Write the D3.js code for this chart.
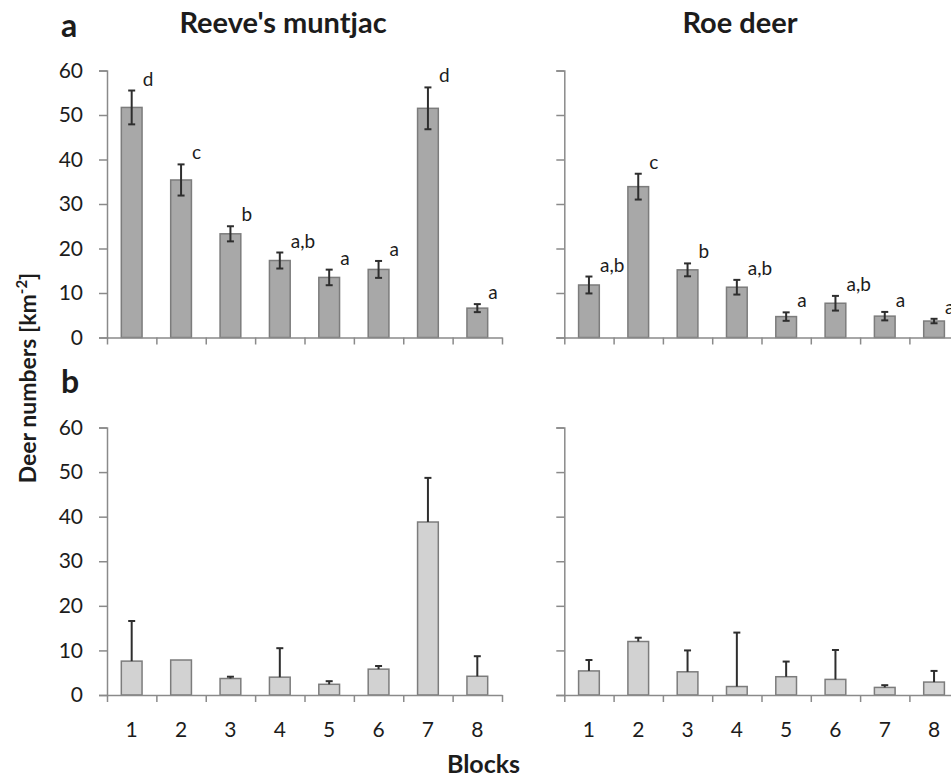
<!DOCTYPE html>
<html>
<head>
<meta charset="utf-8">
<script src="https://cdn.jsdelivr.net/npm/d3@7/dist/d3.min.js"></script>
<style>
  body { margin: 0; background: #fff; }
  svg { display: block; font-family: Lato, 'Open Sans', sans-serif; }
</style>
</head>
<body>
<svg id="chart" width="951" height="779"></svg>
<script>
// data
var blocks = ['1', '2', '3', '4', '5', '6', '7', '8']
var yTicks = [0, 10, 20, 30, 40, 50, 60]

// panel a (means with symmetric errors)
var muntjacA = [51.7, 35.4, 23.3, 17.3, 13.5, 15.3, 51.5, 6.6]
var muntjacAErr = [3.8, 3.5, 1.7, 1.8, 1.75, 1.9, 4.7, 0.9]
var muntjacALetters = ['d', 'c', 'b', 'a,b', 'a', 'a', 'd', 'a']
var roeA = [11.8, 33.9, 15.2, 11.3, 4.7, 7.7, 4.8, 3.7]
var roeAErr = [1.9, 2.9, 1.45, 1.65, 0.95, 1.65, 0.95, 0.5]
var roeALetters = ['a,b', 'c', 'b', 'a,b', 'a', 'a,b', 'a', 'a']

// panel b (means with upper error only)
var muntjacB = [7.6, 7.85, 3.7, 4.0, 2.4, 5.8, 38.8, 4.2]
var muntjacBErr = [9.0, 0, 0.4, 6.5, 0.7, 0.7, 9.9, 4.5]
var roeB = [5.4, 12.0, 5.2, 1.9, 4.1, 3.5, 1.7, 2.9]
var roeBErr = [2.45, 0.85, 4.8, 12.1, 3.4, 6.6, 0.5, 2.5]

var svg = d3.select('#chart')
var axisColor = '#8a8a8a'
var textColor = '#1c1c1c'

var xLeft = [107, 502], xRight = [564.3, 958.7]
var yTop = [337.5, 70.5], yBottom = [695, 427.5]

function drawPanel(opts) {
  var x = d3.scaleBand().domain(blocks).range(opts.xr)
    .paddingInner(0.58).paddingOuter(0.29)
  var xt = d3.scaleLinear().domain([0, blocks.length]).range(opts.xr)
  var y = d3.scaleLinear().domain([0, 60]).range(opts.yr)
  var g = svg.append('g')

  // y axis
  var ya = g.append('g')
    .attr('transform', 'translate(' + opts.xr[0] + ',0)')
    .call(d3.axisLeft(y).tickValues(yTicks).tickSize(8).tickFormat(opts.yLabels ? d3.format('d') : ''))
  ya.select('.domain').attr('stroke', axisColor).attr('stroke-width', 1.5)
  ya.selectAll('.tick line').attr('stroke', axisColor).attr('stroke-width', 1.5)
  ya.selectAll('.tick text').attr('x', -24).attr('font-size', 21)
    .attr('font-family', 'Lato').attr('fill', textColor)

  // bars
  g.append('g').selectAll('rect')
    .data(opts.values)
    .enter().append('rect')
    .attr('x', function(d, i) { return x(blocks[i]) })
    .attr('y', function(d) { return y(d) })
    .attr('width', x.bandwidth())
    .attr('height', function(d) { return y(0) - y(d) })
    .attr('fill', opts.fill)
    .attr('stroke', '#7c7c7c')
    .attr('stroke-width', 1.5)

  // x axis (ticks between blocks)
  var xa = g.append('g')
    .attr('transform', 'translate(0,' + opts.yr[0] + ')')
    .call(d3.axisBottom(xt).tickValues(d3.range(blocks.length + 1)).tickSize(7).tickFormat('').tickSizeOuter(0))
  xa.select('.domain').attr('stroke', axisColor).attr('stroke-width', 1.5)
  xa.selectAll('.tick line').attr('stroke', axisColor).attr('stroke-width', 1.5)

  if (opts.xLabels) {
    g.append('g').selectAll('text')
      .data(blocks)
      .enter().append('text')
      .attr('x', function(d) { return x(d) + x.bandwidth() / 2 })
      .attr('y', opts.yr[0] + 42)
      .attr('text-anchor', 'middle')
      .attr('font-size', 21)
      .attr('fill', textColor)
      .text(function(d) { return d })
  }

  // error bars
  var eb = g.append('g').attr('stroke', '#2e2e2e').attr('stroke-width', 2)
  opts.values.forEach(function(v, i) {
    var e = opts.errs[i]
    if (!e) return
    var cx = x(blocks[i]) + x.bandwidth() / 2
    var lo = opts.oneSided ? v : v - e
    var hi = v + e
    eb.append('line').attr('x1', cx).attr('x2', cx).attr('y1', y(lo)).attr('y2', y(hi))
    eb.append('line').attr('x1', cx - 3.5).attr('x2', cx + 3.5).attr('y1', y(hi)).attr('y2', y(hi))
    if (!opts.oneSided)
      eb.append('line').attr('x1', cx - 3.5).attr('x2', cx + 3.5).attr('y1', y(lo)).attr('y2', y(lo))
  })

  // significance letters
  if (opts.letters) {
    g.append('g').selectAll('text')
      .data(opts.letters)
      .enter().append('text')
      .attr('x', function(d, i) { return x(blocks[i]) + x.bandwidth() / 2 + 11 })
      .attr('y', function(d, i) { return y(opts.values[i] + opts.errs[i]) - 5 })
      .attr('font-size', 19)
      .attr('fill', textColor)
      .text(function(d) { return d })
  }
}

drawPanel({ xr: xLeft, yr: yTop, values: muntjacA, errs: muntjacAErr, letters: muntjacALetters,
  fill: '#a8a8a8', yLabels: true })
drawPanel({ xr: xRight, yr: yTop, values: roeA, errs: roeAErr, letters: roeALetters,
  fill: '#a8a8a8' })
drawPanel({ xr: xLeft, yr: yBottom, values: muntjacB, errs: muntjacBErr, oneSided: true,
  fill: '#d2d2d2', yLabels: true, xLabels: true })
drawPanel({ xr: xRight, yr: yBottom, values: roeB, errs: roeBErr, oneSided: true,
  fill: '#d2d2d2', xLabels: true })

// titles and labels
var labels = svg.append('g').attr('fill', textColor).attr('font-weight', 'bold')
labels.append('text').attr('x', 283).attr('y', 33).attr('text-anchor', 'middle')
  .attr('font-size', 29).text("Reeve's muntjac")
labels.append('text').attr('x', 740).attr('y', 33).attr('text-anchor', 'middle')
  .attr('font-size', 29).text('Roe deer')
labels.append('text').attr('x', 61).attr('y', 37).attr('font-size', 32).text('a')
labels.append('text').attr('x', 61).attr('y', 393).attr('font-size', 32).text('b')
labels.append('text').attr('x', 483.5).attr('y', 773).attr('text-anchor', 'middle')
  .attr('font-size', 25).text('Blocks')

var yl = labels.append('text')
  .attr('transform', 'translate(36,378) rotate(-90)')
  .attr('text-anchor', 'middle')
  .attr('font-size', 23)
yl.append('tspan').text('Deer numbers [km')
yl.append('tspan').attr('dy', -9).attr('font-size', 15).text('-2')
yl.append('tspan').attr('dy', 9).text(']')
</script>
</body>
</html>
